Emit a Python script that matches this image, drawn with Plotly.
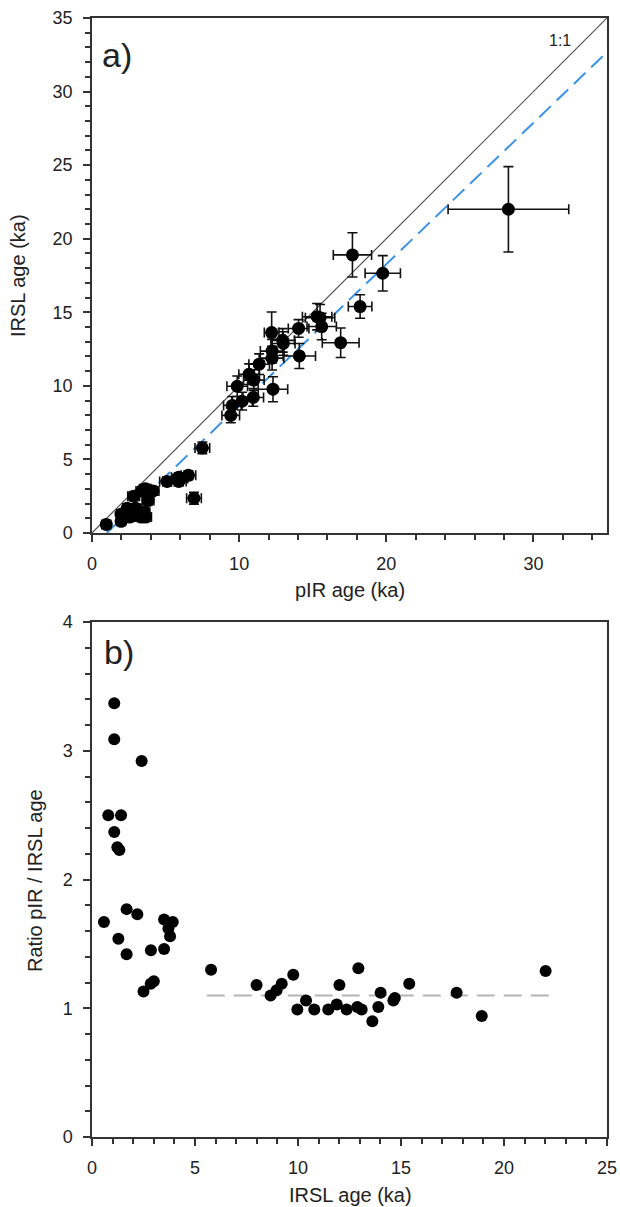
import plotly.graph_objects as go
from plotly.subplots import make_subplots

# ---- Panel a data: pIR age (x) vs IRSL age (y), with 1-sigma errors ----
pir_a = [0.97, 1.98, 3.64, 3.34, 2.56, 2.77, 2.97, 3.53, 1.97, 2.97, 2.39, 3.81, 6.93, 2.83, 3.39,
         3.63, 4.15, 5.90, 6.55, 6.00, 5.90, 5.10,
         7.50, 9.43, 9.54, 10.20, 10.96, 12.30, 11.00, 9.87, 10.68, 11.36, 12.24, 14.09, 12.24,
         13.00, 16.90, 12.96, 12.21, 14.04, 15.61, 15.50, 15.30, 18.22, 19.76, 17.70, 28.30]
irsl_a = [0.58, 0.79, 1.08, 1.08, 1.08, 1.23, 1.33, 1.41, 1.28, 1.68, 1.68, 2.20, 2.36, 2.50, 2.85,
          3.00, 2.86, 3.50, 3.92, 3.71, 3.79, 3.50,
          5.78, 7.99, 8.67, 8.96, 9.21, 9.77, 10.39, 9.97, 10.79, 11.47, 11.88, 12.03, 12.36,
          12.88, 12.93, 13.09, 13.62, 13.90, 14.03, 14.63, 14.70, 15.39, 17.65, 18.90, 22.00]
pir_err = [0.3, 0.3, 0.4, 0.4, 0.3, 0.3, 0.4, 0.4, 0.3, 0.4, 0.3, 0.4, 0.5, 0.4, 0.4,
           0.4, 0.4, 0.5, 0.5, 0.5, 0.5, 0.5,
           0.5, 0.6, 0.6, 0.7, 0.7, 1.0, 0.7, 0.7, 0.7, 0.7, 0.8, 1.1, 0.8,
           0.8, 1.25, 0.8, 0.5, 0.7, 1.0, 1.0, 1.0, 0.8, 1.2, 1.3, 4.1]
irsl_err = [0.2, 0.2, 0.3, 0.3, 0.3, 0.3, 0.3, 0.3, 0.3, 0.3, 0.3, 0.3, 0.4, 0.3, 0.3,
            0.3, 0.3, 0.3, 0.3, 0.3, 0.3, 0.3,
            0.4, 0.5, 0.6, 0.6, 0.6, 0.85, 0.7, 0.7, 0.7, 0.7, 0.8, 0.85, 0.8,
            0.8, 1.0, 0.8, 1.4, 0.6, 0.9, 0.9, 0.9, 0.8, 1.2, 1.5, 2.9]

# reference lines in panel a
one_to_one_x = [0, 35]
one_to_one_y = [0, 35]
fit_x = [1.0, 35]
fit_y = [0.0, 32.68]

# ---- Panel b data: IRSL age (x) vs ratio pIR / IRSL ----
irsl_b = [0.58, 0.79, 1.08, 1.08, 1.08, 1.23, 1.33, 1.41, 1.28, 1.68, 1.68, 2.20, 2.41, 2.50, 2.85,
          3.00, 2.86, 3.50, 3.92, 3.71, 3.79, 3.50,
          5.78, 7.99, 8.67, 8.96, 9.21, 9.77, 10.39, 9.97, 10.79, 11.47, 11.88, 12.01, 12.36,
          12.88, 12.93, 13.09, 13.61, 13.90, 14.01, 14.63, 14.70, 15.40, 17.70, 18.92, 22.02]
ratio_b = [1.67, 2.50, 3.37, 3.09, 2.37, 2.25, 2.23, 2.50, 1.54, 1.77, 1.42, 1.73, 2.92, 1.13, 1.19,
           1.21, 1.45, 1.69, 1.67, 1.62, 1.56, 1.46,
           1.30, 1.18, 1.10, 1.14, 1.19, 1.26, 1.06, 0.99, 0.99, 0.99, 1.03, 1.18, 0.99,
           1.01, 1.31, 0.99, 0.90, 1.01, 1.12, 1.06, 1.08, 1.19, 1.12, 0.94, 1.29]
mean_x = [5.57, 22.6]
mean_y = [1.1, 1.1]

FONT = "Liberation Sans, Arial, sans-serif"
AX = "#333333"
TXT = "#222222"

fig = make_subplots(rows=2, cols=1, vertical_spacing=0.0796)

fig.add_trace(go.Scatter(x=one_to_one_x, y=one_to_one_y, mode="lines",
                         line=dict(color="#555555", width=1.2), hoverinfo="skip"), row=1, col=1)
fig.add_trace(go.Scatter(x=fit_x, y=fit_y, mode="lines",
                         line=dict(color="#3a93e8", width=2, dash="16px,8px"), hoverinfo="skip"),
              row=1, col=1)
fig.add_trace(go.Scatter(
    x=pir_a, y=irsl_a, mode="markers",
    marker=dict(color="black", size=13),
    error_x=dict(type="data", array=pir_err, color="#111111", thickness=1.6, width=5),
    error_y=dict(type="data", array=irsl_err, color="#111111", thickness=1.6, width=5),
), row=1, col=1)

fig.add_trace(go.Scatter(x=mean_x, y=mean_y, mode="lines",
                         line=dict(color="#b5b5b5", width=2, dash="18px,9px"), hoverinfo="skip"),
              row=2, col=1)
fig.add_trace(go.Scatter(x=irsl_b, y=ratio_b, mode="markers",
                         marker=dict(color="black", size=12)), row=2, col=1)

axis_common = dict(showline=True, linecolor=AX, linewidth=1.5, mirror=True, ticks="outside",
                   tickcolor=AX, tickwidth=1.5, ticklen=7, showgrid=False, zeroline=False,
                   ticklabeloverflow="allow", ticklabelstandoff=7,
                   tickfont=dict(family=FONT, size=18, color=TXT))
minor_common = dict(ticks="outside", ticklen=5, tickcolor=AX, tickwidth=1.5)

fig.update_xaxes(**axis_common, range=[0, 35], tick0=0, dtick=10,
                 minor=dict(**minor_common, dtick=2), row=1, col=1)
fig.update_yaxes(**axis_common, range=[0, 35], tick0=0, dtick=5,
                 minor=dict(**minor_common, dtick=1), row=1, col=1)
fig.update_xaxes(**axis_common, range=[0, 25], tick0=0, dtick=5,
                 minor=dict(**minor_common, dtick=1), row=2, col=1)
fig.update_yaxes(**axis_common, range=[0, 4], tick0=0, dtick=1,
                 minor=dict(**minor_common, dtick=0.2), row=2, col=1)

title_font = dict(family=FONT, size=20, color=TXT)
# axis titles (placed in paper coordinates)
for tx, ty, txt, ang in [(-0.1437, 0.7703, "IRSL age (ka)", -90),
                         (0.501, 0.4888, "pIR age (ka)", 0),
                         (-0.1107, 0.2297, "Ratio pIR / IRSL age", -90),
                         (0.501, -0.0518, "IRSL age (ka)", 0)]:
    fig.add_annotation(x=tx, y=ty, xref="paper", yref="paper", text=txt, textangle=ang,
                       xanchor="center", yanchor="middle", showarrow=False, font=title_font)

fig.add_annotation(x=0.55, y=32.5, xref="x", yref="y", text="a)", showarrow=False,
                   xanchor="left", yanchor="middle", font=dict(family=FONT, size=34, color=TXT))
fig.add_annotation(x=31.8, y=33.5, xref="x", yref="y", text="1:1", showarrow=False,
                   font=dict(family=FONT, size=16, color=TXT))
fig.add_annotation(x=0.5, y=3.77, xref="x2", yref="y2", text="b)", showarrow=False,
                   xanchor="left", yanchor="middle", font=dict(family=FONT, size=34, color=TXT))

fig.update_layout(width=620, height=1207, showlegend=False,
                  paper_bgcolor="white", plot_bgcolor="white",
                  margin=dict(l=92, r=13, t=18, b=70, autoexpand=False),
                  font=dict(family=FONT))

fig.write_html("out.html", config={"displayModeBar": False},
               post_script="document.body.style.margin='0';document.body.style.overflow='hidden';")
